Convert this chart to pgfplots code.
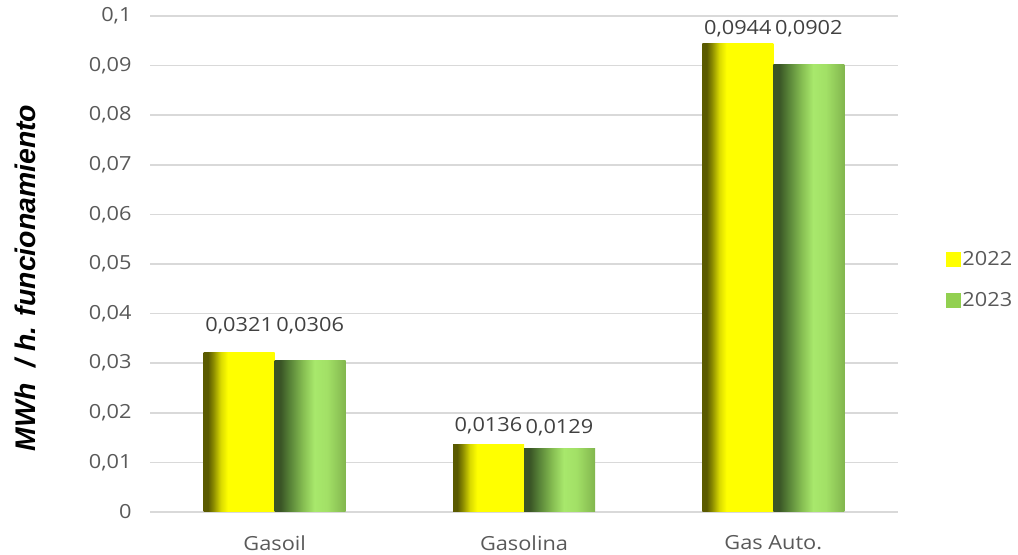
\documentclass[border=0pt]{standalone}
\usepackage{fontspec}
\setmainfont{Open Sans}[FakeStretch=1.12]
\newfontfamily\ylabfont{Liberation Sans}
\usepackage{pgfplots}
\pgfplotsset{compat=1.18}
\definecolor{tickgray}{HTML}{595959}
\definecolor{labgray}{HTML}{404040}
\definecolor{gridgray}{HTML}{D9D9D9}
\definecolor{leg22}{HTML}{FFFF00}
\definecolor{leg23}{HTML}{92D050}
\definecolor{yd}{HTML}{5A5A00}
\definecolor{ytwo}{HTML}{8E8E00}
\definecolor{ythree}{HTML}{DADA00}
\definecolor{yfull}{HTML}{FFFF00}
\definecolor{gd}{HTML}{3A5526}
\definecolor{gtwo}{HTML}{557F36}
\definecolor{gthree}{HTML}{86BE52}
\definecolor{gfour}{HTML}{A8E86C}
\definecolor{gfive}{HTML}{A2E066}
\definecolor{gsix}{HTML}{82B64E}
\pgfdeclarehorizontalshading{yshade}{100bp}{color(0bp)=(yd); color(25bp)=(yd); color(28bp)=(yd); color(32bp)=(ytwo); color(37bp)=(ythree); color(42bp)=(yfull); color(75bp)=(yfull); color(100bp)=(yfull)}
\pgfdeclarehorizontalshading{gshade}{100bp}{color(0bp)=(gd); color(25bp)=(gd); color(29bp)=(gd); color(35bp)=(gtwo); color(45bp)=(gthree); color(53bp)=(gfour); color(62bp)=(gfive); color(75bp)=(gsix); color(100bp)=(gsix)}
\pgfplotsset{
  bar22/.style={ybar, draw=none, shade, shading=yshade, bar shift=-35.5bp, forget plot,
    every node near coord/.append style={xshift=-35.5bp, yshift=#1}},
  bar23/.style={ybar, draw=none, shade, shading=gshade, bar shift=35.5bp, forget plot,
    every node near coord/.append style={xshift=35.5bp, yshift=#1}},
}
\begin{document}
\begin{tikzpicture}
\path[use as bounding box] (0,0) rectangle (1018bp,555bp);
\node[rotate=90, font=\ylabfont\bfseries\itshape\fontsize{28.5}{28.5}\selectfont, inner sep=0pt] at (25bp,277bp) {MWh\ \ / h. funcionamiento};
\begin{axis}[
  at={(150bp,43bp)}, anchor=south west,
  scale only axis, width=748bp, height=496bp,
  xmin=-0.5, xmax=2.5, ymin=0, ymax=0.1,
  clip=false,
  bar width=71bp,
  xtick={0,1,2}, xticklabels={Gasoil,Gasolina,Gas Auto.},
  ytick={0,0.01,0.02,0.03,0.04,0.05,0.06,0.07,0.08,0.09,0.1},
  major tick length=0pt,
  tick style={draw=none},
  axis line style={draw=none},
  ymajorgrids, grid style={gridgray, line width=1.5bp},
  tick label style={font=\fontsize{19.5}{19.5}\selectfont, text=tickgray},
  yticklabel style={xshift=-15bp},
  xticklabel style={yshift=-20bp},
  nodes near coords,
  every node near coord/.append style={font=\fontsize{19.5}{19.5}\selectfont, text=labgray},
  legend style={at={(1.064,0.468)}, anchor=west, draw=none, fill=none, inner sep=0pt,
    font=\fontsize{19.5}{19.5}\selectfont, text=tickgray, row sep=22bp, cells={anchor=west}},
  legend cell align=left,
  /pgf/number format/.cd, use comma, fixed, precision=4, assume math mode=true,
]
% 2022
\addplot[bar22=15bp] coordinates {(0,0.0321)};
\addplot[bar22=7bp] coordinates {(1,0.0136)};
\addplot[bar22=3.5bp] coordinates {(2,0.0944)};
% 2023
\addplot[bar23=23bp] coordinates {(0,0.0306)};
\addplot[bar23=8.5bp] coordinates {(1,0.0129)};
\addplot[bar23=24bp] coordinates {(2,0.0902)};
\addlegendimage{area legend, legend image code/.code={\fill[leg22] (0bp,-7bp) rectangle (14bp,7bp);}}
\addlegendentry{2022}
\addlegendimage{area legend, legend image code/.code={\fill[leg23] (0bp,-7bp) rectangle (14bp,7bp);}}
\addlegendentry{2023}
\end{axis}
\end{tikzpicture}
\end{document}
